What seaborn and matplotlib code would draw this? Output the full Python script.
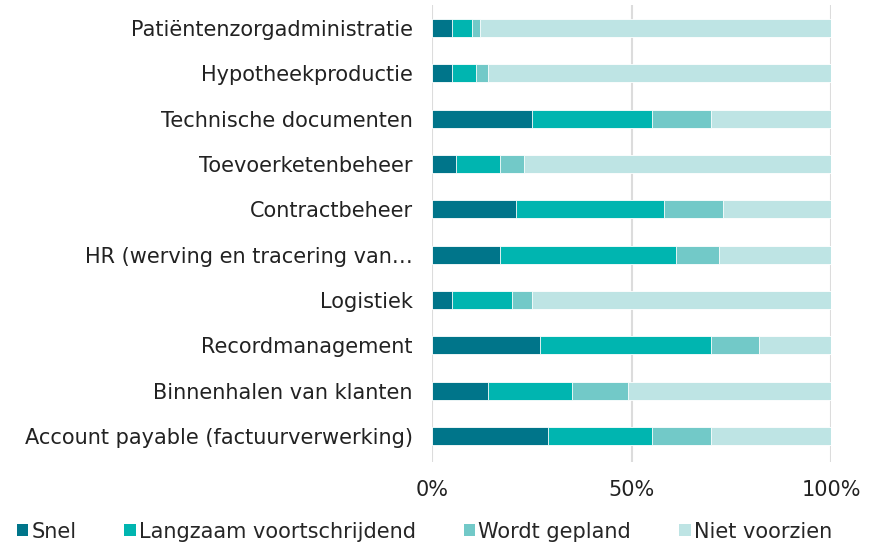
import numpy as np
import pandas as pd
import matplotlib.pyplot as plt
import seaborn as sns
from matplotlib.patches import Patch
from matplotlib.ticker import PercentFormatter

# Data (percentages per process)
categories = [
    "Patiëntenzorgadministratie",
    "Hypotheekproductie",
    "Technische documenten",
    "Toevoerketenbeheer",
    "Contractbeheer",
    "HR (werving en tracering van…",
    "Logistiek",
    "Recordmanagement",
    "Binnenhalen van klanten",
    "Account payable (factuurverwerking)",
]
snel = [5, 5, 25, 6, 21, 17, 5, 27, 14, 29]
langzaam = [5, 6, 30, 11, 37, 44, 15, 43, 21, 26]
gepland = [2, 3, 15, 6, 15, 11, 5, 12, 14, 15]
niet = [88, 86, 30, 77, 27, 28, 75, 18, 51, 30]

series_names = ["Snel", "Langzaam voortschrijdend", "Wordt gepland", "Niet voorzien"]
colors = ["#00758A", "#00B5B0", "#72C9C8", "#BEE4E4"]

sns.set_style("white")
plt.rcParams["font.family"] = ["DejaVu Sans"]

df = pd.DataFrame({
    "category": categories,
    "Snel": snel,
    "Langzaam voortschrijdend": langzaam,
    "Wordt gepland": gepland,
    "Niet voorzien": niet,
})
cum = df[series_names].cumsum(axis=1)

fig, ax = plt.subplots(figsize=(8.73, 5.45), dpi=100)
fig.subplots_adjust(left=0.495, right=0.952, top=0.99, bottom=0.152)

# draw widest cumulative first so the shorter segments sit on top
for name, color in reversed(list(zip(series_names, colors))):
    sns.barplot(x=cum[name], y=df["category"], orient="h", color=color,
                width=0.4, edgecolor="white", linewidth=0.6, ax=ax,
                saturation=1)

for x in [0, 50, 100]:
    ax.axvline(x, color="#DCDCDC", linewidth=1.5, zorder=0)

ax.set_xlim(0, 100)
ax.set_ylim(9.58, -0.5)
ax.set_xticks([0, 50, 100])
ax.xaxis.set_major_formatter(PercentFormatter(decimals=0))
ax.set_xlabel("")
ax.set_ylabel("")
ax.tick_params(axis="both", length=0, labelsize=15, colors="#222222")
ax.tick_params(axis="y", pad=14)
ax.tick_params(axis="x", pad=13)
sns.despine(ax=ax, left=True, bottom=True)

handles = [Patch(facecolor=c, edgecolor="none") for c in colors]
fig.legend(handles, series_names, loc="lower center", ncol=4, frameon=False,
           fontsize=15, bbox_to_anchor=(0.486, -0.028), handlelength=0.55,
           handleheight=0.55, handletextpad=0.15, columnspacing=2.3)

plt.savefig("out.png", dpi=100)
